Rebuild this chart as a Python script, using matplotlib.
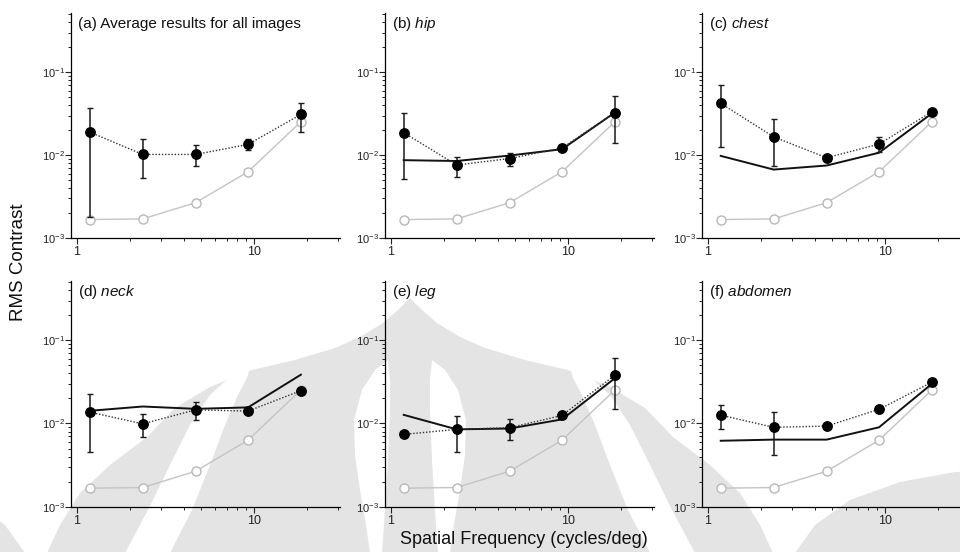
import numpy as np
import matplotlib
matplotlib.use("Agg")
import matplotlib.pyplot as plt
from matplotlib.patches import Polygon
from matplotlib.ticker import LogLocator, FixedLocator, FuncFormatter, NullFormatter, LogFormatterSciNotation

plt.rcParams['font.family'] = ['Liberation Sans', 'DejaVu Sans']
plt.rcParams['mathtext.fontset'] = 'custom'
plt.rcParams['mathtext.rm'] = 'Liberation Sans'
plt.rcParams['mathtext.it'] = 'Liberation Sans:italic'
plt.rcParams['mathtext.default'] = 'regular'

# ---------------- data ----------------
freq = [1.18, 2.35, 4.68, 9.25, 18.4]

panel_titles = ["(a) Average results for all images", "(b) $\\mathit{hip}$", "(c) $\\mathit{chest}$",
                "(d) $\\mathit{neck}$", "(e) $\\mathit{leg}$", "(f) $\\mathit{abdomen}$"]

# reference (open grey circles), same in every panel
reference = [0.00167, 0.0017, 0.00267, 0.0063, 0.0253]

# measured (black dots, dotted line)
meas_a = [0.019, 0.0102, 0.0102, 0.0135, 0.031]
meas_b = [0.0187, 0.0076, 0.0091, 0.0122, 0.0327]
meas_c = [0.0423, 0.0166, 0.0093, 0.0136, 0.0334]
meas_d = [0.0137, 0.0099, 0.0146, 0.0141, 0.0248]
meas_e = [0.0074, 0.0085, 0.0089, 0.0125, 0.0381]
meas_f = [0.0126, 0.0090, 0.0093, 0.0148, 0.0313]

# error bar upper / lower ends (nan = no bar)
nan = np.nan
up_a = [0.0367, 0.0155, 0.0133, 0.0155, 0.043]
lo_a = [0.0018, 0.0053, 0.0074, 0.0115, 0.0188]
up_b = [0.0324, 0.0095, 0.0105, nan, 0.0517]
lo_b = [0.0052, 0.0055, 0.0075, nan, 0.0142]
up_c = [0.0707, 0.0277, nan, 0.0164, nan]
lo_c = [0.0124, 0.0073, nan, 0.0110, nan]
up_d = [0.0226, 0.0129, 0.0179, nan, nan]
lo_d = [0.0046, 0.0068, 0.0111, nan, nan]
up_e = [0.0079, 0.0122, 0.0114, nan, 0.0611]
lo_e = [0.0069, 0.0046, 0.0064, nan, 0.0149]
up_f = [0.0167, 0.0136, nan, nan, nan]
lo_f = [0.0087, 0.0042, nan, nan, nan]

# model prediction (solid line), none in panel (a)
model_a = None
model_b = [0.0087, 0.0085, 0.0099, 0.0118, 0.0327]
model_c = [0.0098, 0.0067, 0.0075, 0.0107, 0.0319]
model_d = [0.0142, 0.0160, 0.0150, 0.0156, 0.0386]
model_e = [0.0127, 0.0085, 0.0087, 0.0112, 0.0350]
model_f = [0.0062, 0.0064, 0.0064, 0.0090, 0.0300]

measured = [meas_a, meas_b, meas_c, meas_d, meas_e, meas_f]
uppers = [up_a, up_b, up_c, up_d, up_e, up_f]
lowers = [lo_a, lo_b, lo_c, lo_d, lo_e, lo_f]
models = [model_a, model_b, model_c, model_d, model_e, model_f]

# ---------------- figure ----------------
fig = plt.figure(figsize=(9.6, 5.52), dpi=100)
W, H = 960.0, 552.0

# faint background watermark (decoration, figure pixel coords, y measured from top)
wm_cx = 410
wm_gray = '#e4e4e4'
dome_half = [(0, 298), (12, 310), (27, 323), (50, 337), (75, 348), (115, 360), (158, 370),
             (200, 387), (235, 408), (263, 437), (300, 465), (330, 493), (350, 525), (363, 553)]
inner_leaf = [(22, 360), (35, 370), (48, 390), (56, 420), (55, 455), (50, 490), (44, 525), (40, 553),
              (28, 553), (25, 510), (22, 460), (20, 410), (20, 380)]
outer_leaf = [(160, 368), (178, 375), (200, 395), (220, 425), (240, 465), (262, 510), (285, 553),
              (240, 553), (218, 510), (200, 465), (185, 425), (172, 395), (163, 378)]
wing = [(385, 553), (405, 525), (440, 500), (490, 482), (545, 472), (600, 470), (600, 553)]


def to_disp(pts, sign=1):
    return [(wm_cx + sign * dx, H - y) for dx, y in pts]


dome = to_disp(dome_half) + to_disp(dome_half[::-1], -1)
fig.add_artist(Polygon(dome, closed=True, transform=None, fc=wm_gray, ec='none', zorder=-3))
for sgn in (1, -1):
    fig.add_artist(Polygon(to_disp(wing, sgn), closed=True, transform=None, fc=wm_gray, ec='none', zorder=-3))
    fig.add_artist(Polygon(to_disp(inner_leaf, sgn), closed=True, transform=None, fc='white', ec='none', zorder=-2))
    fig.add_artist(Polygon(to_disp(outer_leaf, sgn), closed=True, transform=None, fc='white', ec='none', zorder=-2))

lefts = [71, 385, 702]
rows = [(238, 225), (506.7, 226)]  # (bottom px, height px)
width_px = 269

for i in range(6):
    r, c = divmod(i, 3)
    bpx, hpx = rows[r]
    ax = fig.add_axes([lefts[c] / W, (H - bpx) / H, width_px / W, hpx / H])
    ax.set_xscale('log')
    ax.set_yscale('log')
    ax.set_xlim(0.925, 30.6)
    ax.set_ylim(1e-3, 0.52)
    ax.patch.set_alpha(0)
    for s in ['top', 'right']:
        ax.spines[s].set_visible(False)
    for s in ['left', 'bottom']:
        ax.spines[s].set_linewidth(0.9)

    # reference curve
    ax.plot(freq, reference, color='#c4c4c4', lw=1.0, marker='o', ms=6.5,
            mfc='white', mec='#b8b8b8', mew=1.0, zorder=2)
    # model curve
    if models[i] is not None:
        ax.plot(freq, models[i], color='#111111', lw=1.4, zorder=3)
    # measured with error bars
    m = np.array(measured[i])
    u = np.array(uppers[i])
    l = np.array(lowers[i])
    ax.plot(freq, m, color='#333333', lw=1.0, ls=(0, (1, 1.3)), zorder=4)
    yerr = np.vstack([np.where(np.isnan(l), 0, m - np.nan_to_num(l, nan=0)),
                      np.where(np.isnan(u), 0, np.nan_to_num(u, nan=0) - m)])
    has = ~(np.isnan(u) | np.isnan(l))
    fx = np.array(freq)
    ax.errorbar(fx[has], m[has], yerr=yerr[:, has], fmt='none', ecolor='#1a1a1a',
                elinewidth=1.1, capsize=2.3, capthick=1.0, zorder=5)
    ax.plot(freq, m, ls='none', marker='o', ms=6.8, mfc='black', mec='black', zorder=6)

    # ticks
    ax.xaxis.set_major_locator(FixedLocator([1, 10]))
    ax.xaxis.set_major_formatter(FuncFormatter(lambda v, p: f"{v:g}"))
    ax.xaxis.set_minor_locator(FixedLocator([2, 3, 4, 5, 6, 7, 8, 9, 20, 30]))
    ax.xaxis.set_minor_formatter(NullFormatter())
    ax.yaxis.set_major_locator(LogLocator(base=10, numticks=10))
    ax.yaxis.set_major_formatter(LogFormatterSciNotation())
    ax.yaxis.set_minor_locator(LogLocator(base=10, subs=np.arange(2, 10), numticks=20))
    ax.yaxis.set_minor_formatter(NullFormatter())
    ax.tick_params(axis='both', which='major', direction='out', length=4, width=0.8, color='#222222')
    ax.tick_params(axis='both', which='minor', direction='out', length=2.4, width=0.7, color='#222222')
    ax.tick_params(axis='x', which='major', labelsize=9, pad=2, labelcolor='#222222')
    ax.tick_params(axis='y', which='major', labelsize=8, pad=0.5, labelcolor='#222222')

    ax.text(0.026, 0.951, panel_titles[i], transform=ax.transAxes, fontsize=11,
            va='center', ha='left', color='#111111')

fig.text(524 / W, 1 - 539 / H, "Spatial Frequency (cycles/deg)", ha='center', va='center',
         fontsize=13, color='#111111')
fig.text(19 / W, 1 - 262 / H, "RMS Contrast", ha='center', va='center', rotation=90,
         fontsize=13.5, color='#111111')

fig.savefig("out.png", dpi=100)
